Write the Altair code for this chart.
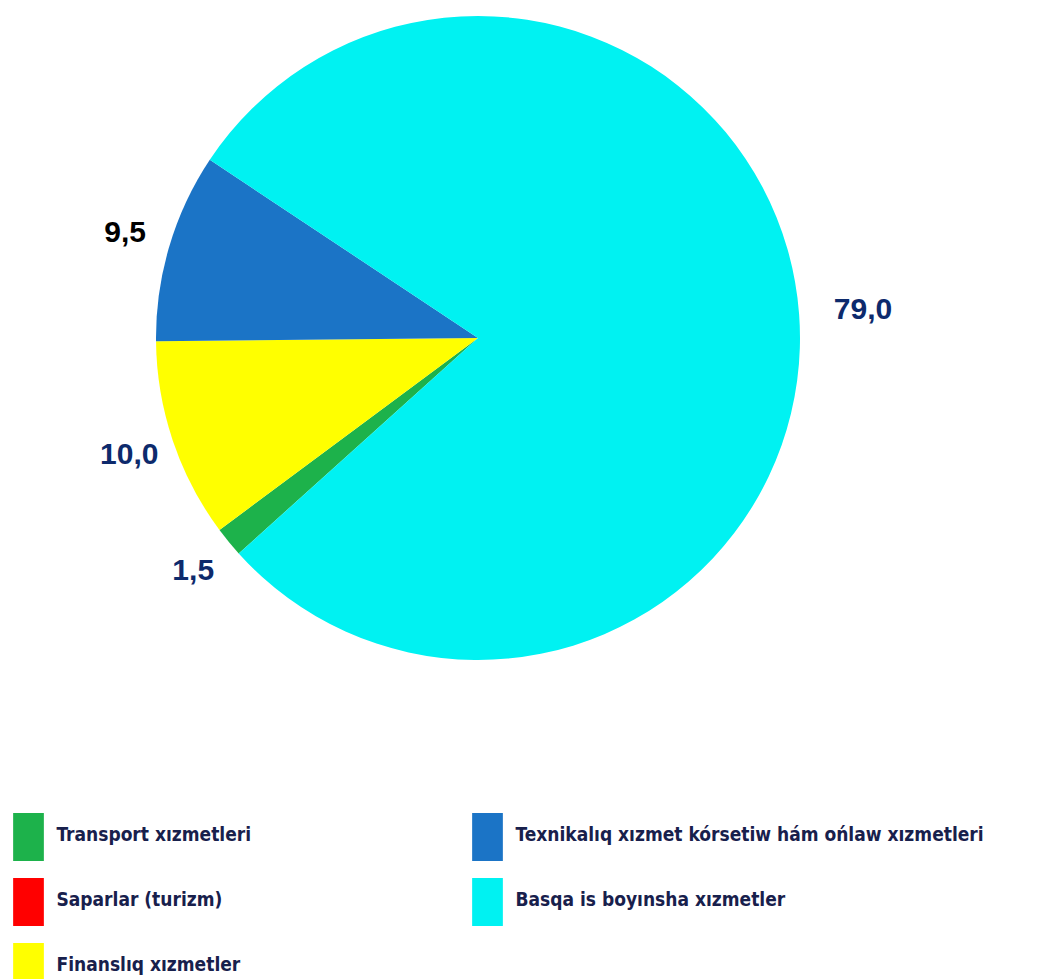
import math
import altair as alt
import pandas as pd

categories = [
    "Transport xızmetleri",
    "Saparlar (turizm)",
    "Finanslıq xızmetler",
    "Texnikalıq xızmet kórsetiw hám ońlaw xızmetleri",
    "Basqa is boyınsha xızmetler",
]
values = [1.5, 0.0, 10.0, 9.5, 79.0]
slice_colors = ["#1DB24B", "#FF0000", "#FFFF00", "#1B74C6", "#00F2F2"]

df = pd.DataFrame({"category": categories, "value": values, "idx": list(range(len(categories)))})

start = math.radians(228)
theta_scale = alt.Scale(domain=[0, 100], range=[start, start + 2 * math.pi])
color_scale = alt.Scale(domain=categories, range=slice_colors)

CX, CY, R = 470, 330, 322
base = alt.Chart(df)

pie = base.mark_arc(radius=R).encode(
    theta=alt.Theta("value:Q", stack=True, scale=theta_scale),
    order=alt.Order("idx:Q"),
    color=alt.Color("category:N", scale=color_scale, legend=None),
    x=alt.value(CX),
    y=alt.value(CY),
)

lab_base = base.transform_window(
    cum="sum(value)", sort=[alt.SortField("idx", order="ascending")]
).transform_calculate(
    mid="datum.cum - datum.value / 2",
    label="replace(format(datum.value, '.1f'), '.', ',')",
)


def label_layer(flt, rad, colour_expr):
    return lab_base.transform_filter(flt).mark_text(
        font="Liberation Sans", fontWeight="bold", fontSize=30,
        align="center", baseline="middle", radius=rad,
    ).encode(
        theta=alt.Theta("mid:Q", stack=None, scale=theta_scale),
        text="label:N",
        color=colour_expr,
        x=alt.value(CX),
        y=alt.value(CY),
    )


small_labels = label_layer(
    "datum.value > 0 && datum.value < 50", 368,
    alt.condition("datum.idx == 3", alt.value("#000000"), alt.value("#0D2A6C")),
)
big_label = label_layer("datum.value >= 50", 386, alt.value("#0D2A6C"))

leg_base = base.transform_calculate(
    col="floor(datum.idx / 3)",
    row="datum.idx % 3",
)
xs = alt.Scale(domain=[0, 1], range=[20.5, 479.5])
ys = alt.Scale(domain=[0, 2], range=[829, 959])

leg_sym = leg_base.mark_point(
    shape="M-0.64,-1H0.64V1H-0.64Z", size=2304, filled=True, opacity=1, strokeWidth=0
).encode(
    x=alt.X("col:Q", scale=xs, axis=None),
    y=alt.Y("row:Q", scale=ys, axis=None),
    color=alt.Color("category:N", scale=color_scale, legend=None),
)

leg_txt = leg_base.mark_text(
    font="DejaVu Sans Condensed, Liberation Sans", fontWeight="bold", fontSize=19,
    align="left", baseline="middle", dx=28, dy=-2, color="#18204C",
).encode(
    x=alt.X("col:Q", scale=xs, axis=None),
    y=alt.Y("row:Q", scale=ys, axis=None),
    text="category:N",
)

chart = alt.layer(pie, small_labels, big_label, leg_sym, leg_txt).properties(
    width=1024, height=971, padding=0, autosize="none"
).configure_view(stroke=None)

chart.save("out.html", embed_options={"renderer": "svg", "actions": False})
